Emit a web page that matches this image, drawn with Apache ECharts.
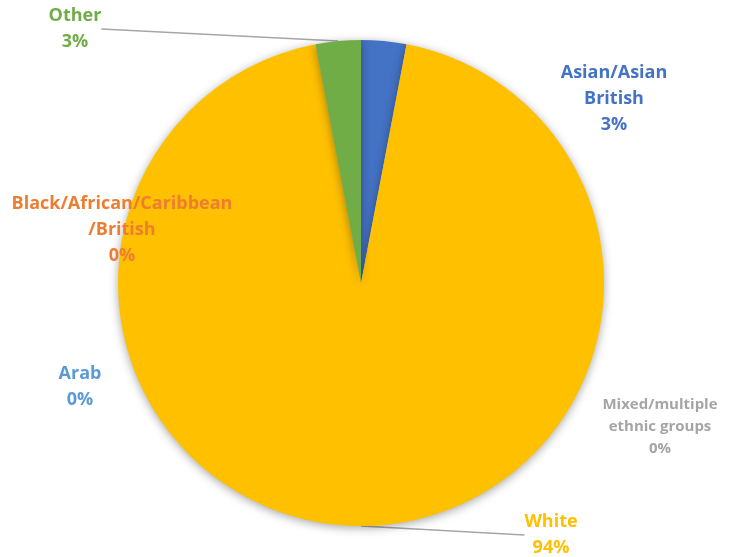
<!DOCTYPE html>
<html>
<head>
<meta charset="utf-8">
<script src="https://cdn.jsdelivr.net/npm/echarts@6/dist/echarts.min.js"></script>
<style>
  html, body { margin: 0; padding: 0; background: #ffffff; }
  #chart { width: 740px; height: 557px; }
</style>
</head>
<body>
<div id="chart"></div>
<script>
// Ethnic group breakdown (percent of respondents)
const groups = [
  'Asian/Asian\nBritish',
  'Black/African/Caribbean\n/British',
  'Mixed/multiple\nethnic groups',
  'White',
  'Arab',
  'Other'
];
const shares = [3, 0, 0, 94, 0, 3];
const palette = ['#4472C4', '#ED7D31', '#A5A5A5', '#FFC000', '#5B9BD5', '#70AD47'];

// Where each label block is centred
const labelSpots = [
  [614, 99],
  [122, 230],
  [660, 427],
  [551, 535],
  [80, 387],
  [75, 29]
];
const withLeader = [false, false, false, true, false, true];

const chart = echarts.init(document.getElementById('chart'), null, { renderer: 'canvas' });

const data = groups.map((name, i) => {
  const small = i === 2;
  return {
    name: name,
    value: shares[i],
    itemStyle: { color: palette[i] },
    label: {
      color: palette[i],
      fontSize: small ? 15 : 18,
      lineHeight: small ? 22 : 26
    },
    labelLine: {
      show: withLeader[i],
      lineStyle: { color: '#A6A6A6', width: 1.5 }
    }
  };
});

chart.setOption({
  animation: false,
  backgroundColor: '#ffffff',
  series: [{
    type: 'pie',
    center: [361, 283],
    radius: [0, 243],
    startAngle: 90,
    clockwise: true,
    avoidLabelOverlap: false,
    minAngle: 0,
    itemStyle: {
      borderWidth: 0,
      shadowBlur: 10,
      shadowColor: 'rgba(0,0,0,0.35)',
      shadowOffsetX: 0,
      shadowOffsetY: 2
    },
    label: {
      show: true,
      position: 'outside',
      formatter: '{b}\n{c}%',
      fontFamily: '"Open Sans", sans-serif',
      fontWeight: 'bold',
      align: 'center'
    },
    labelLine: {
      length: 0,
      length2: 0,
      smooth: false
    },
    labelLayout: function (params) {
      const p = labelSpots[params.dataIndex];
      return { x: p[0], y: p[1], align: 'center', verticalAlign: 'middle' };
    },
    data: data
  }]
});
</script>
</body>
</html>
